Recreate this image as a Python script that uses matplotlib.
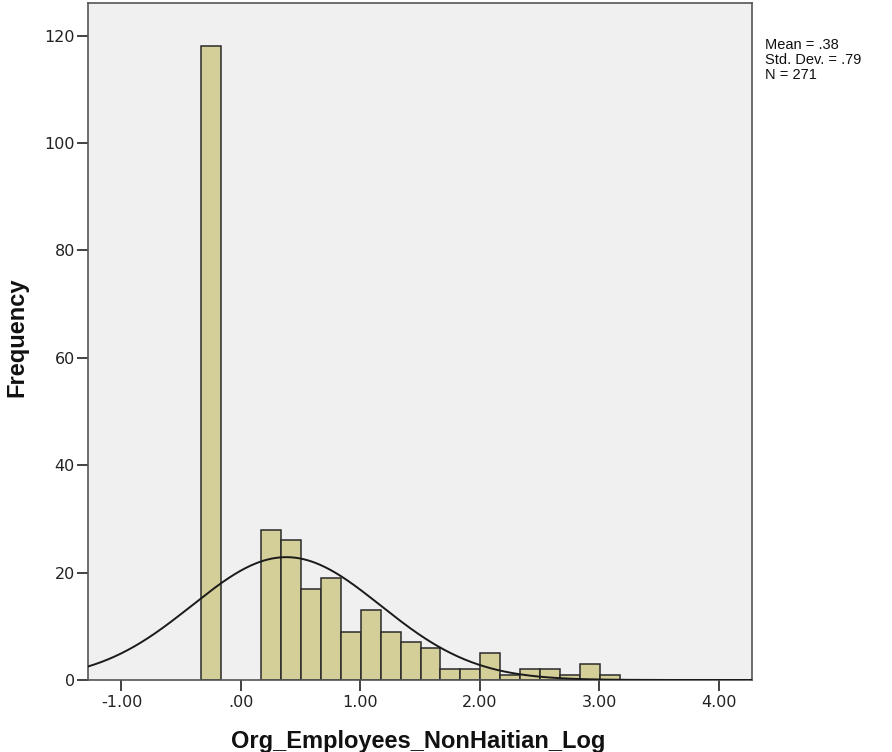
import numpy as np
import matplotlib
matplotlib.use("Agg")
import matplotlib.pyplot as plt

# Histogram data (bin width ~0.167, first bin starts at -0.335)
bin_start = -0.335
bin_width = 0.1672
counts = [118, 0, 0, 28, 26, 17, 19, 9, 13, 9, 7, 6, 2, 2, 5, 1, 2, 2, 1, 3, 1]
mean_val = 0.38
sd_val = 0.79
n_val = 271
xticks = [-1, 0, 1, 2, 3, 4]
xticklabels = ["-1.00", ".00", "1.00", "2.00", "3.00", "4.00"]
yticks = [0, 20, 40, 60, 80, 100, 120]

plt.rcParams['font.family'] = ['DejaVu Sans']

fig = plt.figure(figsize=(8.92, 7.52), dpi=100)
ax = fig.add_axes([88/892, 72/752, (752-88)/892, (680-3)/752])
ax.set_facecolor('#f0f0f0')

edges = bin_start + bin_width * np.arange(len(counts) + 1)
lefts = edges[:-1]
for l, c in zip(lefts, counts):
    if c > 0:
        ax.bar(l, c, width=bin_width, align='edge', color='#d4cf98',
               edgecolor='#2a2a2a', linewidth=1.1, zorder=2)

xs = np.linspace(-1.28, 4.28, 500)
ys = n_val * bin_width / (sd_val * np.sqrt(2 * np.pi)) * np.exp(-0.5 * ((xs - mean_val) / sd_val) ** 2)
ax.plot(xs, ys, color='#1a1a1a', linewidth=1.4, zorder=3)

ax.set_xlim(-1.28, 4.28)
ax.set_ylim(0, 126.1)
ax.set_xticks(xticks)
ax.set_xticklabels(xticklabels)
ax.set_yticks(yticks)
ax.tick_params(axis='both', direction='out', length=8, width=1.3, color='#333333',
               labelsize=11.5, labelcolor='#222222')
ax.tick_params(axis='x', pad=3)
ax.tick_params(axis='y', pad=1.5)
for s in ax.spines.values():
    s.set_color('#555555')
    s.set_linewidth(1.2)

fig.text(418.5/892, (752-748)/752, 'Org_Employees_NonHaitian_Log', fontsize=17,
         fontweight='bold', family='Liberation Sans', ha='center', va='baseline', color='#111111')
fig.text(5/892, 1 - 337.5/752, 'Frequency', fontsize=17, fontweight='bold',
         family='Liberation Sans', rotation=90, ha='left', va='center', color='#111111')

fig.text(765/892, 1 - 38/752, 'Mean = .38\nStd. Dev. = .79\nN = 271', fontsize=10.5,
         family='Liberation Sans', va='top', ha='left', linespacing=1.08, color='#111111')

fig.savefig('out.png', dpi=100)
